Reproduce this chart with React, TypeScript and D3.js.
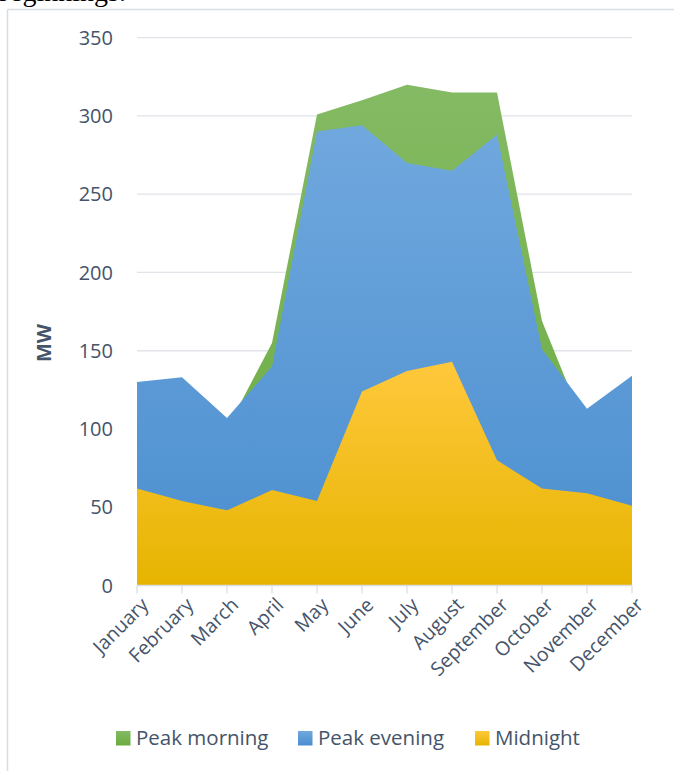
import React from 'react';
import * as d3 from 'd3';

// Monthly load values (MW)
const months = ['January', 'February', 'March', 'April', 'May', 'June', 'July', 'August', 'September', 'October', 'November', 'December'];
const peakMorning = [112, 118, 100, 155, 301, 310, 320, 315, 315, 169, 98, 120];
const peakEvening = [130, 133, 107, 140, 290, 294, 270, 265, 288, 151, 113, 134];
const midnight = [62, 54, 48, 61, 54, 124, 137, 143, 80, 62, 59, 51];
const yTicks = [0, 50, 100, 150, 200, 250, 300, 350];

interface Series {
    name: string;
    values: number[];
    top: string;
    bottom: string;
}

const series: Series[] = [
    { name: 'Peak morning', values: peakMorning, top: '#84ba63', bottom: '#6aab40' },
    { name: 'Peak evening', values: peakEvening, top: '#70a8de', bottom: '#4a8ecf' },
    { name: 'Midnight', values: midnight, top: '#ffc83c', bottom: '#e6b400' },
];

const W = 674;
const H = 771;
const plot = { left: 137, right: 632, top: 37.7, bottom: 585.5 };
const textColor = '#44546a';
const font = '"Open Sans", sans-serif';

const App: React.FC = () => {
    const x = d3.scalePoint<string>().domain(months).range([plot.left, plot.right]);
    const y = d3.scaleLinear().domain([0, 350]).range([plot.bottom, plot.top]);

    const area = d3.area<number>()
        .x((_, i) => x(months[i])!)
        .y0(y(0))
        .y1(d => y(d));

    const legendPos = [116, 298, 475];

    return (
        <svg width={W} height={H} style={{ position: 'absolute', left: 0, top: 0, background: '#fff' }}>
            <defs>
                {series.map((s, i) => (
                    <linearGradient key={i} id={`grad${i}`} x1={0} x2={0} y1={0} y2={1}>
                        <stop offset="0%" stopColor={s.top} />
                        <stop offset="100%" stopColor={s.bottom} />
                    </linearGradient>
                ))}
            </defs>

            {/* text of the page above the chart, cut off */}
            <text x={-4} y={1} fontFamily='"Liberation Serif", serif' fontSize={28} fill="#000">beginnings.</text>

            {/* chart frame */}
            <line x1={7.5} x2={W} y1={9.5} y2={9.5} stroke="#d9dde3" strokeWidth={1.5} />
            <line x1={7.5} x2={7.5} y1={9.5} y2={H} stroke="#d9dde3" strokeWidth={1.5} />

            {/* grid lines */}
            {yTicks.filter(t => t > 0).map(t => (
                <line key={t} x1={plot.left} x2={plot.right} y1={y(t)} y2={y(t)} stroke="#e1e4e9" strokeWidth={1.3} />
            ))}

            {/* y tick labels */}
            {yTicks.map(t => (
                <text key={t} x={113} y={y(t)} dy="0.36em" textAnchor="end" fontFamily={font} fontSize={20} fill={textColor}>{t}</text>
            ))}

            <text transform={`translate(51,343) rotate(-90)`} textAnchor="middle" fontFamily={font} fontSize={20} fontWeight="bold" fill={textColor}>MW</text>

            {/* areas */}
            {series.map((s, i) => (
                <path key={s.name} d={area(s.values)!} fill={`url(#grad${i})`} />
            ))}

            {/* x axis */}
            <line x1={plot.left} x2={plot.right} y1={plot.bottom} y2={plot.bottom} stroke="#d9dde3" strokeWidth={1.3} />
            {months.map(m => (
                <g key={m}>
                    <line x1={x(m)} x2={x(m)} y1={plot.bottom} y2={plot.bottom + 8} stroke="#d9dde3" strokeWidth={1.3} />
                    <text transform={`translate(${x(m)! + 3},${plot.bottom + 11}) rotate(-45)`} textAnchor="end" dy="0.7em"
                        fontFamily={font} fontSize={19.5} fill={textColor}>{m}</text>
                </g>
            ))}

            {/* legend */}
            {series.map((s, i) => (
                <g key={s.name} transform={`translate(${legendPos[i]},731)`}>
                    <rect width={14.5} height={14.5} fill={`url(#grad${i})`} />
                    <text x={20} y={14} fontFamily={font} fontSize={20.5} fill={textColor}>{s.name}</text>
                </g>
            ))}
        </svg>
    );
};

export default App;
